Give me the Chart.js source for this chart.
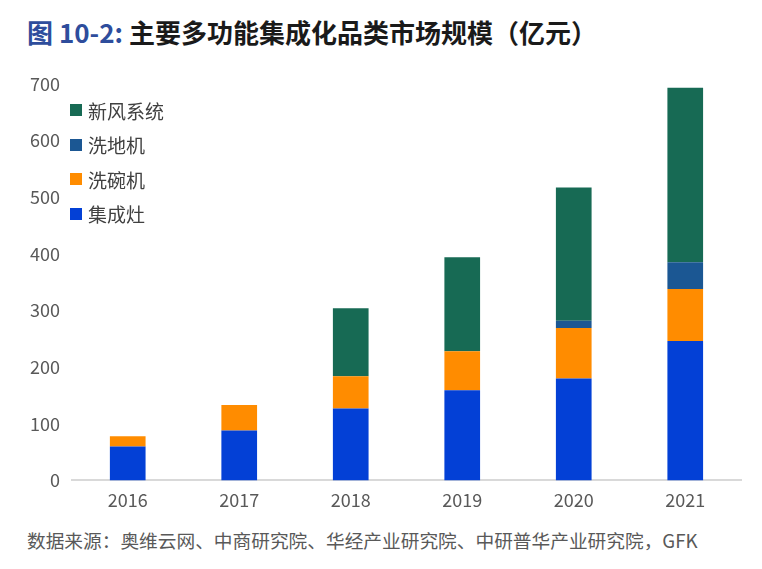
<!DOCTYPE html>
<html>
<head>
<meta charset="utf-8">
<script src="https://cdn.jsdelivr.net/npm/chart.js@4.4.1/dist/chart.umd.min.js"></script>
<style>
    body { margin: 0; background: #fff; font-family: "Noto Sans CJK SC", "Noto Sans", sans-serif; }
    #wrap { position: relative; width: 762px; height: 569px; overflow: hidden; }
    #title { position: absolute; left: 27px; top: 13px; font-size: 26px; font-weight: bold; color: #1a1a1a; white-space: nowrap; }
    #title span { color: #2e4d9c; }
    #chartBox { position: absolute; left: 0; top: 61px; width: 762px; height: 463px; }
    #legend { position: absolute; left: 70px; top: 93px; }
    .lg-row { display: flex; align-items: center; height: 34.5px; font-size: 19px; color: #404040; }
    .lg-box { width: 12px; height: 12px; margin-right: 6px; }
    #source { position: absolute; left: 27px; top: 526px; font-size: 18.7px; color: #595959; white-space: nowrap; }
</style>
</head>
<body>
<div id="wrap">
    <div id="title"><span>图 10-2:</span> 主要多功能集成化品类市场规模（亿元）</div>
    <div id="chartBox"><canvas id="marketChart"></canvas></div>
    <div id="legend"></div>
    <div id="source">数据来源：奥维云网、中商研究院、华经产业研究院、中研普华产业研究院，GFK</div>
</div>
<script>
// 年份
const years = ['2016', '2017', '2018', '2019', '2020', '2021'];

// 各品类规模（亿元）
const jichengzao = [60, 88, 127, 159, 180, 246];   // 集成灶
const xiwanji = [18, 45, 57, 69, 89, 92];          // 洗碗机
const xidiji = [0, 0, 0, 0, 13, 47];               // 洗地机
const xinfeng = [0, 0, 120, 166, 235, 308];        // 新风系统

const yTicks = [0, 100, 200, 300, 400, 500, 600, 700];

const datasets = [
    { label: '集成灶', data: jichengzao, backgroundColor: '#0340d6' },
    { label: '洗碗机', data: xiwanji, backgroundColor: '#ff8c00' },
    { label: '洗地机', data: xidiji, backgroundColor: '#1b5793' },
    { label: '新风系统', data: xinfeng, backgroundColor: '#176a54' }
];

const ctx = document.getElementById('marketChart').getContext('2d');
const marketChart = new Chart(ctx, {
    type: 'bar',
    data: {
        labels: years,
        datasets: datasets.map(ds => Object.assign({ borderWidth: 0, categoryPercentage: 1, barPercentage: 0.32 }, ds))
    },
    options: {
        responsive: true,
        maintainAspectRatio: false,
        animation: false,
        layout: { padding: { top: 5, left: 18, right: 21, bottom: 4 } },
        plugins: {
            legend: { display: false },
            tooltip: { enabled: false }
        },
        scales: {
            x: {
                stacked: true,
                grid: { display: false, drawTicks: false },
                border: { display: true, color: '#d9d9d9', width: 2 },
                ticks: { color: '#595959', padding: 9, font: { size: 18, family: '"Noto Sans CJK SC", "Noto Sans", sans-serif' } }
            },
            y: {
                stacked: true,
                min: 0,
                max: 700,
                afterBuildTicks: function (axis) {
                    axis.ticks = yTicks.map(v => ({ value: v }));
                },
                grid: { display: false, drawTicks: false },
                border: { display: false },
                ticks: { color: '#595959', padding: 12, font: { size: 18, family: '"Noto Sans CJK SC", "Noto Sans", sans-serif' } }
            }
        }
    }
});

// 图例（倒序，与原图一致）
const legendEl = document.getElementById('legend');
datasets.slice().reverse().forEach(ds => {
    const row = document.createElement('div');
    row.className = 'lg-row';
    row.innerHTML = '<div class="lg-box" style="background:' + ds.backgroundColor + '"></div>' + ds.label;
    legendEl.appendChild(row);
});
</script>
</body>
</html>
